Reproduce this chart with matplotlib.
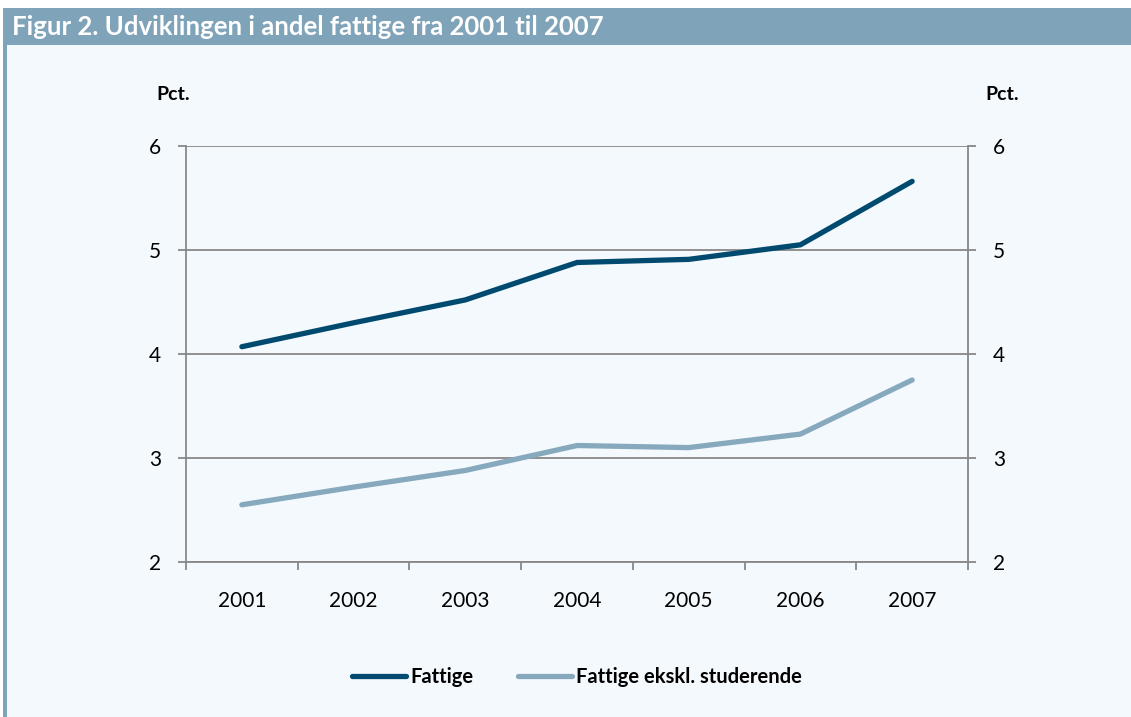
import matplotlib.pyplot as plt
from matplotlib.patches import Rectangle
from matplotlib.lines import Line2D

years = ['2001', '2002', '2003', '2004', '2005', '2006', '2007']
fattige = [4.07, 4.30, 4.52, 4.88, 4.91, 5.05, 5.66]
fattige_ekskl = [2.55, 2.72, 2.88, 3.12, 3.10, 3.23, 3.75]

dark = '#004a70'
light = '#87a9be'
header = '#7fa3b8'
bg = '#f4f9fd'

plt.rcParams['font.family'] = ['Lato', 'DejaVu Sans']

fig = plt.figure(figsize=(11.31, 7.17), dpi=100)
fig.patch.set_facecolor('white')

W, H = 1131, 717
# panel background, header bar and left border
for r in [Rectangle((3 / W, 0), 1 - 3 / W, 1 - 45 / H, facecolor=bg),
          Rectangle((3 / W, 1 - 45 / H), 1 - 3 / W, 37 / H, facecolor=header),
          Rectangle((3 / W, 0), 4 / W, 1 - 45 / H, facecolor=header)]:
    r.set_transform(fig.transFigure)
    r.set_edgecolor('none')
    r.set_zorder(-5)
    fig.patches.append(r)
fig.text(12 / W, 1 - 27 / H, 'Figur 2. Udviklingen i andel fattige fra 2001 til 2007',
         color='white', fontsize=18.5, fontweight='bold', va='center', ha='left')

ax = fig.add_axes([186 / W, 1 - 562 / H, (968 - 186) / W, (562 - 146) / H])
ax.set_facecolor('none')
x = list(range(len(years)))
ax.plot(x, fattige, color=dark, lw=3.8, solid_capstyle='round', zorder=3)
ax.plot(x, fattige_ekskl, color=light, lw=3.8, solid_capstyle='round', zorder=3)

ax.set_xlim(-0.5, len(years) - 0.5)
ax.set_ylim(2, 6)
ax.set_yticks([2, 3, 4, 5, 6])
ax.grid(axis='y', color='#888888', lw=1.3)
ax.set_axisbelow(True)
for s in ax.spines.values():
    s.set_color('#888888')
    s.set_linewidth(1.3)
ax.spines['top'].set_visible(False)

ax.set_xticks([i - 0.5 for i in range(len(years) + 1)])
ax.set_xticklabels([])
ax.set_xticks(x, minor=True)
ax.set_xticklabels(years, minor=True)
ax.tick_params(axis='x', which='major', length=6, color='#888888', width=1.3, direction='out')
ax.tick_params(axis='x', which='minor', length=0, pad=21, labelsize=15)
ax.tick_params(axis='y', length=6, color='#888888', width=1.3, labelsize=15, pad=12,
               left=True, right=True, labelleft=True, labelright=True, direction='out')

fig.text(173 / W, 1 - 94 / H, 'Pct.', fontsize=14, fontweight='bold', ha='center', va='center')
fig.text(1002 / W, 1 - 94 / H, 'Pct.', fontsize=14, fontweight='bold', ha='center', va='center')

handles = [Line2D([], [], color=dark, lw=3.8, solid_capstyle='round'),
           Line2D([], [], color=light, lw=3.8, solid_capstyle='round')]
fig.legend(handles, ['Fattige', 'Fattige ekskl. studerende'], loc='center',
           bbox_to_anchor=(577 / W, 1 - 677 / H), ncol=2, frameon=False,
           prop={'weight': 'bold', 'size': 14.5}, handlelength=2.7, handletextpad=0.2,
           columnspacing=2.2)

fig.savefig('out.png', dpi=100, facecolor=fig.get_facecolor())
